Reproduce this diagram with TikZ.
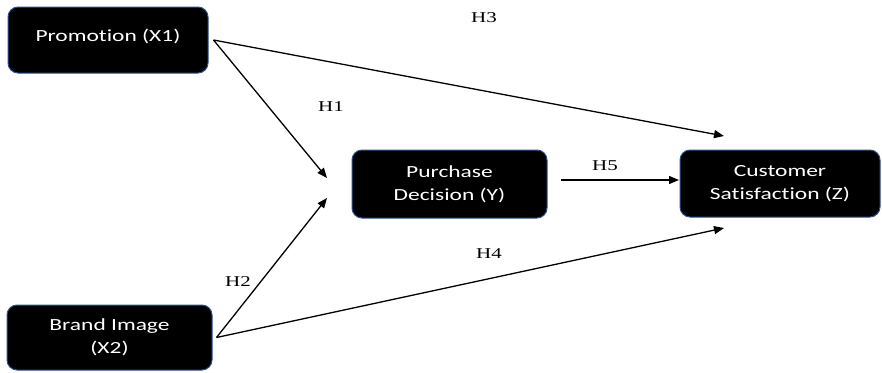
\documentclass[tikz,border=0pt]{standalone}
\usepackage{fontspec}
\setsansfont[FakeStretch=1.38,Ligatures={NoCommon}]{Carlito}
\setmainfont[FakeStretch=1.4]{Liberation Serif}
\usetikzlibrary{arrows.meta}
\definecolor{bordblue}{HTML}{2F528F}
\tikzset{
  box/.style={rectangle, rounded corners=10pt, fill=black, draw=bordblue, line width=1pt,
    text=white, font=\sffamily\fontsize{17}{23}\selectfont, align=center, inner sep=0pt},
  hlabel/.style={font=\rmfamily\fontsize{15}{18}\selectfont, inner sep=0pt},
  conn/.style={line width=1.3pt, -{Triangle[length=10pt,width=8pt]}}
}
\begin{document}
\begin{tikzpicture}[x=1pt,y=-1pt]
\useasboundingbox (0,0) rectangle (882,372);
\node[box, minimum width=200pt, minimum height=66pt] (prom) at (108,40) {\raisebox{9pt}{Promotion (X1)}};
\node[box, minimum width=195pt, minimum height=68pt] (pur) at (449.5,184) {Purchase\\Decision (Y)};
\node[box, minimum width=200pt, minimum height=67pt] (cus) at (780,183.5) {Customer\\Satisfaction (Z)};
\node[box, minimum width=205pt, minimum height=65pt] (brand) at (109.5,337.5) {Brand Image\\(X2)};

\coordinate (h1end) at (327,178);
\coordinate (h2end) at (327,198);
\coordinate (h3end) at (724,136);
\coordinate (h4end) at (724,228);
\coordinate (h5start) at (561,180);
\coordinate (h5end) at (679,180);
\coordinate (promout) at ([xshift=5pt]prom.east);
\coordinate (brandout) at ([xshift=4pt]brand.east);

\draw[conn] (promout) -- (h1end);
\draw[conn] (promout) -- (h3end);
\draw[conn] (brandout) -- (h2end);
\draw[conn] (brandout) -- (h4end);
\draw[conn] (h5start) -- (h5end);

\node[hlabel] (l3) at (484,18) {H3};
\node[hlabel] (l1) at (331,107) {H1};
\node[hlabel] (l5) at (605,166) {H5};
\node[hlabel] (l2) at (238,282) {H2};
\node[hlabel] (l4) at (489,254) {H4};
\end{tikzpicture}
\end{document}
